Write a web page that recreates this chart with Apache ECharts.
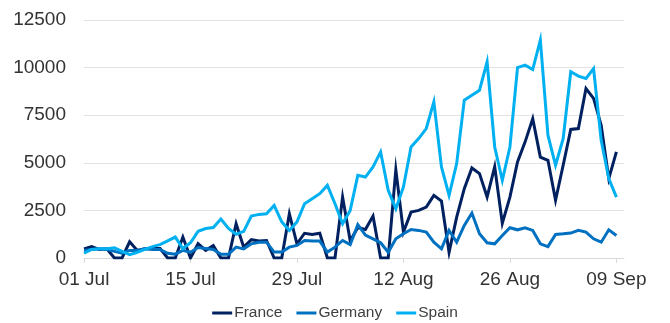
<!DOCTYPE html>
<html>
<head>
<meta charset="utf-8">
<script src="https://cdn.jsdelivr.net/npm/echarts@6/dist/echarts.min.js"></script>
<style>
  html, body { margin: 0; padding: 0; background: #ffffff; }
  #chart { width: 670px; height: 323px; }
</style>
</head>
<body>
<div id="chart"></div>
<script>
// Daily new cases, 01 Jul to 09 Sep (axis runs one extra day to 10 Sep)
const startDate = new Date(Date.UTC(2020, 6, 1));
const dayCount = 72;
const monthNames = ['Jan','Feb','Mar','Apr','May','Jun','Jul','Aug','Sep','Oct','Nov','Dec'];
const categories = [];
for (let i = 0; i < dayCount; i++) {
  const d = new Date(startDate.getTime() + i * 86400000);
  categories.push(String(d.getUTCDate()).padStart(2, '0') + ' ' + monthNames[d.getUTCMonth()]);
}

const france = [
  480, 600, 450, 480, 0, 0, 850, 400, 480, 500,
  500, 0, 0, 1100, 0, 750, 400, 650, 0, 0,
  1800, 570, 960, 890, 920, 0, 0, 2320, 745, 1300,
  1240, 1300, 0, 0, 3200, 900, 1600, 1500, 2200, 0,
  0, 4640, 1360, 2410, 2500, 2670, 3290, 2990, 300, 2150,
  3640, 4730, 4430, 3200, 4800, 1830, 3200, 5040, 6100, 7320,
  5300, 5130, 3030, 4870, 6750, 6800, 8900, 8380, 6970, 4170, 5570
];
const germany = [
  400, 450, 480, 450, 350, 250, 400, 400, 480, 450,
  450, 250, 200, 400, 300, 550, 500, 450, 200, 200,
  570, 480, 745, 830, 830, 310, 310, 570, 660, 920,
  890, 890, 310, 570, 920, 700, 1750, 1200, 1000, 800,
  300, 1010, 1270, 1500, 1450, 1360, 830, 480, 1450, 830,
  1710, 2360, 1270, 800, 745, 1180, 1590, 1480, 1590, 1450,
  745, 600, 1240, 1270, 1310, 1450, 1360, 1010, 830, 1480, 1180
];
const spain = [
  250, 450, 480, 480, 530, 350, 180, 300, 450, 600,
  700, 900, 1100, 500, 800, 1400, 1550, 1600, 2050, 1550,
  1250, 1400, 2200, 2290, 2320, 2760, 1900, 1450, 1900, 2850,
  3110, 3380, 3815, 2850, 1800, 2500, 4340, 4250, 4780, 5570,
  3550, 2590, 3730, 5830, 6270, 6800, 8200, 4780, 3290, 4960,
  8290, 8550, 8810, 10300, 5830, 4080, 5830, 10000, 10130, 9900,
  11450, 6450, 4870, 6270, 9780, 9550, 9430, 9950, 6180, 4170, 3200
];

const seriesNames = ['France', 'Germany', 'Spain'];
const seriesColors = ['#002060', '#0070C0', '#00B0F0'];
const seriesData = [france, germany, spain];

const FONT = '"Liberation Sans", Arial, sans-serif';

const chart = echarts.init(document.getElementById('chart'), null, { renderer: 'canvas' });

chart.setOption({
  animation: false,
  backgroundColor: '#ffffff',
  grid: { left: 84, right: 46, top: 20, bottom: 65, containLabel: false },
  legend: {
    data: seriesNames,
    bottom: 2,
    left: 'center',
    itemWidth: 20,
    itemHeight: 3,
    itemGap: 14,
    icon: 'rect',
    padding: 0,
    textStyle: { fontFamily: FONT, fontSize: 15.5, color: '#404040', padding: [0, 0, 0, -3] }
  },
  xAxis: {
    type: 'category',
    data: categories,
    boundaryGap: false,
    axisLine: { show: true, lineStyle: { color: '#d9d9d9', width: 1 } },
    axisTick: { show: true, interval: 13, length: 5, lineStyle: { color: '#d9d9d9' } },
    axisLabel: { interval: 13, margin: 12, fontFamily: FONT, fontSize: 19, color: '#333333' },
    splitLine: { show: false }
  },
  yAxis: {
    type: 'value',
    min: 0,
    max: 12500,
    interval: 2500,
    axisLine: { show: false },
    axisTick: { show: false },
    axisLabel: {
      margin: 18,
      fontFamily: FONT,
      fontSize: 19,
      color: '#333333',
      formatter: (v) => String(v)
    },
    splitLine: { lineStyle: { color: '#e3e3e3', width: 1 } }
  },
  series: seriesNames.map((name, k) => ({
    name: name,
    type: 'line',
    data: seriesData[k],
    showSymbol: false,
    symbol: 'none',
    color: seriesColors[k],
    lineStyle: { color: seriesColors[k], width: 3, join: 'miter' },
    z: 2 + k
  }))
});
</script>
</body>
</html>
